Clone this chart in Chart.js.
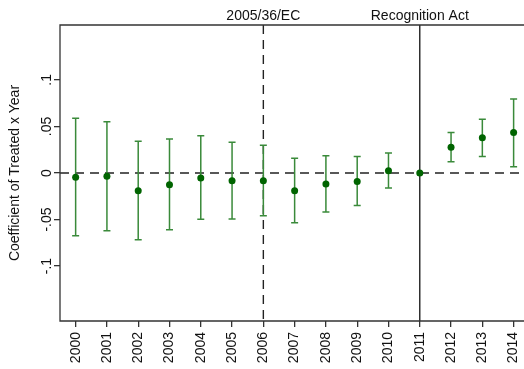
<!DOCTYPE html>
<html>
<head>
<meta charset="utf-8">
<script src="https://cdn.jsdelivr.net/npm/chart.js@4.4.0/dist/chart.umd.min.js"></script>
<style>
    html, body { margin: 0; padding: 0; background: #fff; overflow: hidden; }
    canvas { display: block; }
</style>
</head>
<body>
<canvas id="chart" width="524" height="369"></canvas>
<script>
// Data
const years = [2000, 2001, 2002, 2003, 2004, 2005, 2006, 2007,
               2008, 2009, 2010, 2011, 2012, 2013, 2014];
const coef  = [-0.0047, -0.0036, -0.019, -0.0125, -0.0054, -0.0082, -0.0082, -0.019,
               -0.0118, -0.009, 0.0025, 0, 0.0276, 0.038, 0.0434];
const upper = [0.0588, 0.055, 0.034, 0.0366, 0.040, 0.033, 0.0297, 0.0158,
               0.0186, 0.0176, 0.0215, null, 0.0434, 0.0577, 0.0796];
const lower = [-0.0674, -0.062, -0.0717, -0.061, -0.0498, -0.0495, -0.046, -0.0534,
               -0.042, -0.035, -0.016, null, 0.0122, 0.0176, 0.0068];
const yTickValues = [0.1, 0.05, 0, -0.05, -0.1];
const yTickLabels = ['.1', '.05', '0', '-.05', '-.1'];
const events = [
    { year: 2006, label: '2005/36/EC', dashed: true },
    { year: 2011, label: 'Recognition Act', dashed: false }
];

const FONT = '14px "Liberation Sans", Arial, sans-serif';
const AXIS_COLOR = '#333';

// Reference lines, error bars, frame and rotated y labels
const decorPlugin = {
    id: 'decor',
    beforeDatasetsDraw(chart) {
        const { ctx, chartArea: a, scales: { x, y } } = chart;
        ctx.save();
        ctx.strokeStyle = '#222';
        ctx.lineWidth = 1.4;

        // zero line
        ctx.setLineDash([9, 6]);
        ctx.beginPath();
        ctx.moveTo(a.left, y.getPixelForValue(0));
        ctx.lineTo(a.right + 6, y.getPixelForValue(0));
        ctx.stroke();

        // event lines + labels
        events.forEach(ev => {
            const px = x.getPixelForValue(ev.year);
            ctx.setLineDash(ev.dashed ? [9, 6] : []);
            ctx.beginPath();
            ctx.moveTo(px, a.top);
            ctx.lineTo(px, a.bottom);
            ctx.stroke();
            ctx.fillStyle = '#111';
            ctx.font = FONT;
            ctx.textAlign = 'center';
            ctx.textBaseline = 'middle';
            ctx.fillText(ev.label, px, a.top - 9);
        });
        ctx.setLineDash([]);

        // error bars
        ctx.strokeStyle = '#3a8a3a';
        ctx.lineWidth = 1.5;
        years.forEach((yr, i) => {
            if (upper[i] === null) return;
            const px = x.getPixelForValue(yr);
            const top = y.getPixelForValue(upper[i]);
            const bot = y.getPixelForValue(lower[i]);
            ctx.beginPath();
            ctx.moveTo(px, top); ctx.lineTo(px, bot);
            ctx.moveTo(px - 3.5, top); ctx.lineTo(px + 3.5, top);
            ctx.moveTo(px - 3.5, bot); ctx.lineTo(px + 3.5, bot);
            ctx.stroke();
        });
        ctx.restore();
    },
    afterDraw(chart) {
        const { ctx, chartArea: a, scales: { y } } = chart;
        ctx.save();
        ctx.strokeStyle = AXIS_COLOR;
        ctx.lineWidth = 1.3;
        // frame: left, top, bottom (right side runs past the image edge)
        ctx.beginPath();
        ctx.moveTo(a.right + 6, a.top);
        ctx.lineTo(a.left, a.top);
        ctx.lineTo(a.left, a.bottom);
        ctx.lineTo(a.right + 6, a.bottom);
        ctx.stroke();

        ctx.fillStyle = '#111';
        ctx.font = FONT;
        ctx.textAlign = 'center';
        ctx.textBaseline = 'middle';
        yTickValues.forEach((v, i) => {
            ctx.save();
            ctx.translate(a.left - 13, y.getPixelForValue(v));
            ctx.rotate(-Math.PI / 2);
            ctx.fillText(yTickLabels[i], 0, 0);
            ctx.restore();
        });
        ctx.save();
        ctx.translate(15, (a.top + a.bottom) / 2);
        ctx.rotate(-Math.PI / 2);
        ctx.fillText('Coefficient of Treated x Year', 0, 0);
        ctx.restore();
        ctx.restore();
    }
};

new Chart(document.getElementById('chart'), {
    type: 'scatter',
    data: {
        datasets: [{
            data: years.map((yr, i) => ({ x: yr, y: coef[i] })),
            pointRadius: 3.5,
            pointHoverRadius: 3.5,
            pointBackgroundColor: '#006400',
            pointBorderColor: '#006400',
            pointBorderWidth: 0
        }]
    },
    options: {
        responsive: false,
        animation: false,
        events: [],
        layout: { padding: { top: 25, right: 0, left: 0, bottom: 0 } },
        plugins: { legend: { display: false }, tooltip: { enabled: false } },
        scales: {
            x: {
                type: 'linear',
                min: 1999.5,
                max: 2014.22,
                afterBuildTicks(scale) {
                    scale.ticks = years.map(v => ({ value: v }));
                },
                grid: {
                    drawOnChartArea: false,
                    drawTicks: true,
                    tickLength: 6,
                    color: AXIS_COLOR,
                    lineWidth: 1.3
                },
                border: { display: false },
                ticks: {
                    color: '#111',
                    font: { family: '"Liberation Sans", Arial, sans-serif', size: 14 },
                    minRotation: 90,
                    maxRotation: 90,
                    autoSkip: false,
                    padding: 5,
                    callback: v => String(v)
                },
                afterFit(scale) {
                    scale.height = 48;
                    scale.paddingLeft = 0;
                    scale.paddingRight = 0;
                }
            },
            y: {
                min: -0.159,
                max: 0.159,
                afterBuildTicks(scale) {
                    scale.ticks = yTickValues.map(v => ({ value: v }));
                },
                grid: {
                    drawOnChartArea: false,
                    drawTicks: true,
                    tickLength: 6,
                    color: AXIS_COLOR,
                    lineWidth: 1.3
                },
                border: { display: false },
                ticks: { display: false },
                afterFit(scale) {
                    scale.width = 60;
                    scale.paddingTop = 0;
                    scale.paddingBottom = 0;
                }
            }
        }
    },
    plugins: [decorPlugin]
});
</script>
</body>
</html>
